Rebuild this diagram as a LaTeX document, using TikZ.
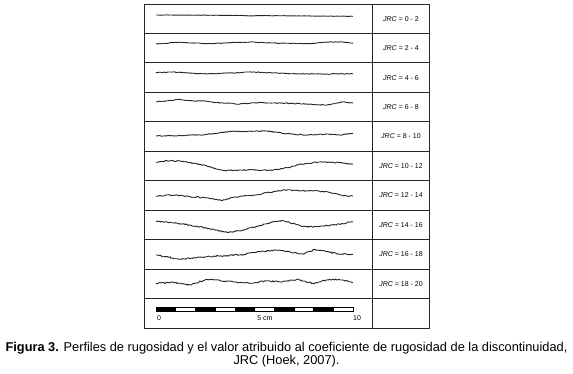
\documentclass[tikz,border=0pt]{standalone}
\usepackage{fontspec}
\setmainfont{Liberation Sans}
\usetikzlibrary{decorations.pathmorphing}

\begin{document}
\begin{tikzpicture}[
  x=1pt, y=-1pt,
  frame/.style={draw=black!85, line width=1pt},
  prof/.style={draw=black!85, line width=0.9pt, line join=round, decorate,
    decoration={random steps, segment length=1.4pt, amplitude=#1}},
  prof/.default=0.3pt,
  jrc/.style={font=\fontsize{7}{8}\selectfont, inner sep=0pt},
  scalelbl/.style={font=\fontsize{7}{8}\selectfont, inner sep=0pt},
  captext/.style={font=\fontsize{12.8}{13}\selectfont, align=center, inner sep=0pt}
]
\useasboundingbox[fill=white] (0,0) rectangle (573,373);
\pgfmathsetseed{11}

% table
\draw[frame] (144,4) rectangle (429,328);
\draw[frame] (372,4) -- (372,328);
\foreach \i in {1,...,10}
  \draw[frame] (144,{4+29.45*\i}) -- (429,{4+29.45*\i});

% labels
\foreach \lo [evaluate=\lo as \hi using int(\lo+2), count=\k from 0] in {0,2,...,18}
  \node[jrc] (jrc\k) at (401,{18.7+29.45*\k}) {\textit{JRC} = \lo\ - \hi};

% profiles
\draw[prof=0.15pt] (156,15) -- (240,15.4) -- (250,15.9) -- (260,15.6) -- (307,16) -- (353,16.3);
\draw[prof=0.3pt] (156,44) -- (173,42.7) -- (180,42.3) -- (207,43.7) -- (240,42.3) -- (250,42) -- (273,43) -- (307,43.7) -- (327,42) -- (343,42) -- (353,43.3);
\draw[prof=0.35pt] (156,72.7) -- (173,72) -- (207,74) -- (253,72) -- (293,73.7) -- (327,74) -- (353,73.7);
\draw[prof=0.45pt] (156,101.7) -- (167,100.7) -- (180,99.3) -- (190,100.7) -- (207,101.3) -- (213,102.3) -- (240,104) -- (253,102.7) -- (273,103) -- (290,103.3) -- (327,105) -- (343,102) -- (353,103);
\draw[prof=0.5pt] (156,136) -- (200,135) -- (217,133.3) -- (233,131) -- (240,131.7) -- (267,131) -- (283,133.3) -- (307,135) -- (327,134) -- (340,135) -- (353,133.3);
\draw[prof=0.55pt] (156,162.3) -- (167,160.7) -- (183,161.3) -- (207,166) -- (223,170.7) -- (240,170) -- (273,170) -- (287,167.7) -- (300,164.3) -- (320,162) -- (340,162.7) -- (353,164.3);
\draw[prof=0.6pt] (156,196) -- (173,195) -- (190,196.7) -- (207,197.7) -- (222,200.7) -- (233,197.3) -- (257,194.7) -- (273,191.7) -- (287,190) -- (307,190.7) -- (327,191.7) -- (340,195) -- (347,196) -- (353,196);
\draw[prof=0.65pt] (156,221) -- (173,222.7) -- (190,225) -- (207,228.3) -- (227,232.3) -- (240,230.7) -- (253,227.3) -- (273,221.7) -- (283,220.7) -- (300,225.7) -- (313,227.3) -- (333,225) -- (353,221.7);
\draw[prof=0.7pt] (156,255) -- (180,259.3) -- (207,256.7) -- (240,255) -- (260,251.7) -- (280,250) -- (303,254.3) -- (315,249.3) -- (327,251.7) -- (340,254.3) -- (353,254.3);
\draw[prof=0.75pt] (156,283.3) -- (173,282.3) -- (190,285) -- (207,279.3) -- (217,280) -- (233,281.7) -- (250,283.3) -- (267,281) -- (280,281.7) -- (297,279.3) -- (313,283.3) -- (330,279.3) -- (343,280) -- (353,282.7);

% scale bar
\foreach \s in {0,2,...,8}
  \draw[line width=0.5pt, fill=black] ({156+19.7*\s},307.5) rectangle ++(19.7,3.5);
\foreach \s in {1,3,...,9}
  \draw[line width=0.5pt, fill=white] ({156+19.7*\s},307.5) rectangle ++(19.7,3.5);
\node[scalelbl] (s0) at (159,318.5) {0};
\node[scalelbl] (s5) at (265,318.5) {5 cm};
\node[scalelbl] (s10) at (357,318.5) {10};

% caption
\node[captext] (caption) at (286.5,354.8) {\textbf{Figura 3.} Perfiles de rugosidad y el valor atribuido al coeficiente de rugosidad de la discontinuidad,\\ JRC (Hoek, 2007).};
\end{tikzpicture}
\end{document}
